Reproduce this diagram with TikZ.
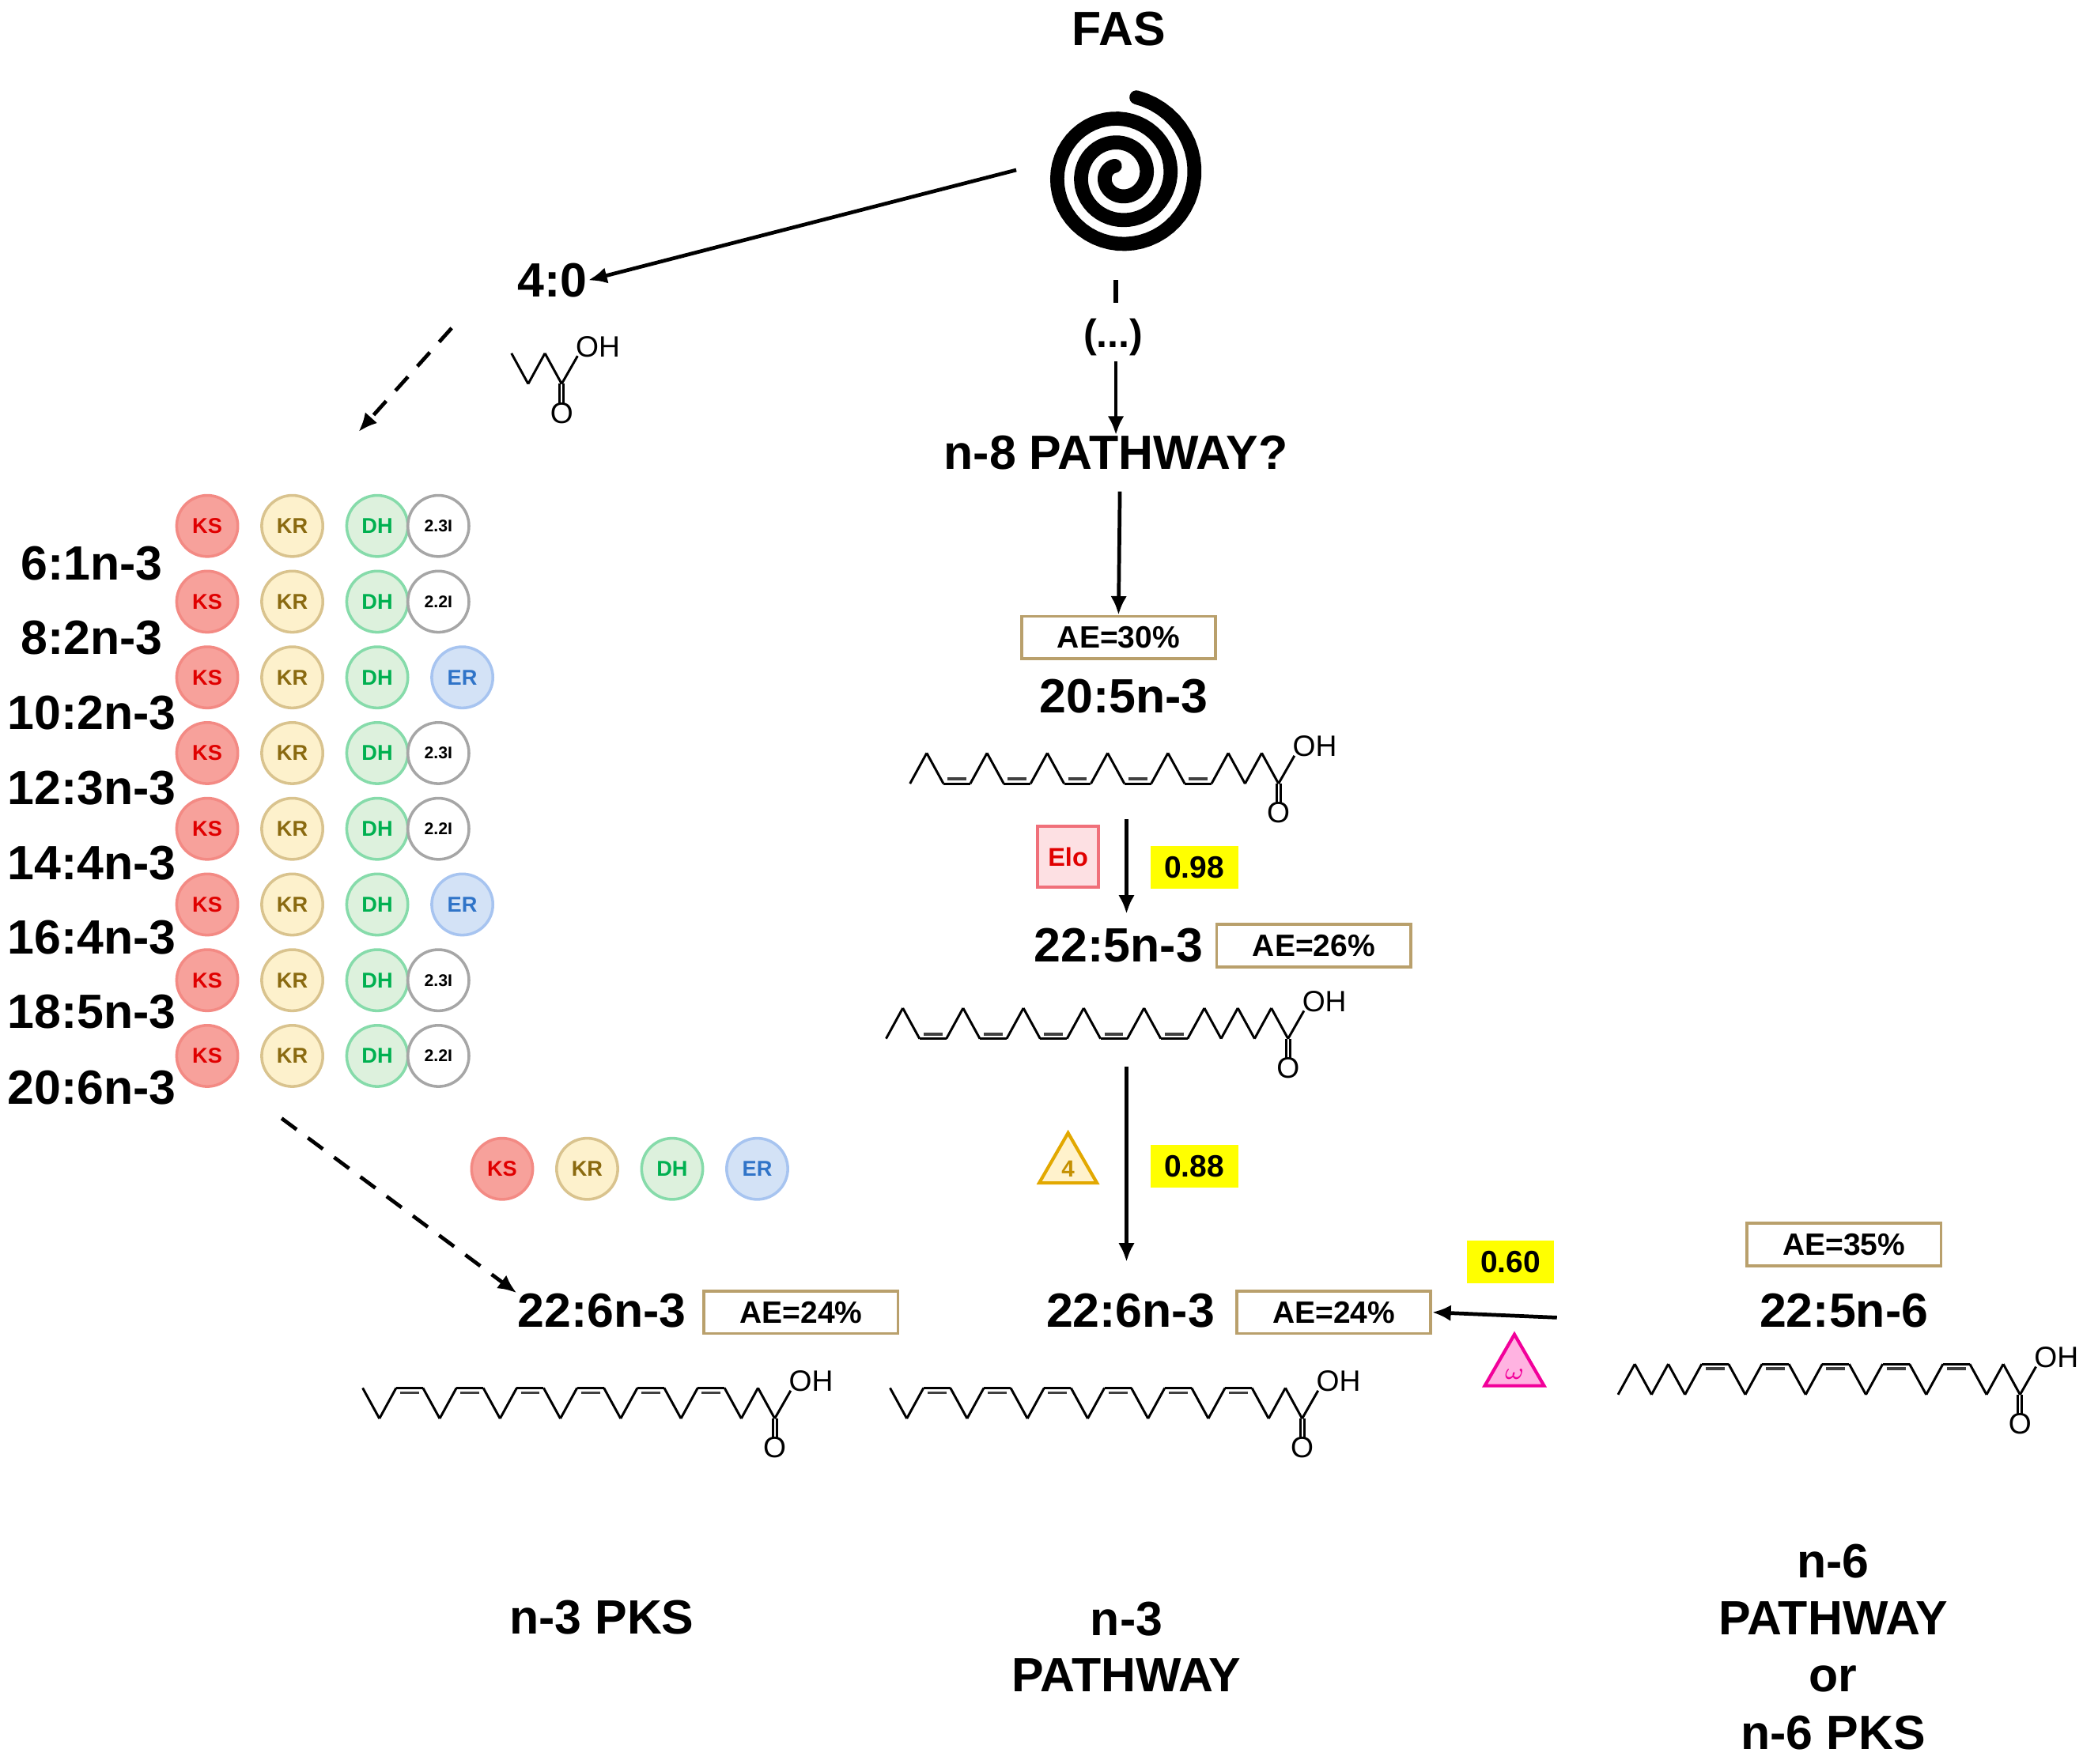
\documentclass[tikz,border=0pt]{standalone}
\usepackage{fontspec}
\setmainfont{Liberation Sans}
\usetikzlibrary{arrows.meta,calc,shapes.geometric}
\definecolor{ksF}{HTML}{F7A19B}\definecolor{ksD}{HTML}{F38A84}\definecolor{ksT}{HTML}{E00000}
\definecolor{krF}{HTML}{FDF1CC}\definecolor{krD}{HTML}{D9C38E}\definecolor{krT}{HTML}{8A6A10}
\definecolor{dhF}{HTML}{DDF1DD}\definecolor{dhD}{HTML}{86DBAA}\definecolor{dhT}{HTML}{00B050}
\definecolor{erF}{HTML}{D3E2F6}\definecolor{erD}{HTML}{A7C4F0}\definecolor{erT}{HTML}{3074C8}
\definecolor{aeD}{HTML}{B9A06C}\definecolor{yel}{HTML}{FFFF00}
\definecolor{triF}{HTML}{FFF2CC}\definecolor{triD}{HTML}{E2A800}\definecolor{triT}{HTML}{C49000}
\definecolor{omF}{HTML}{FFB3E1}\definecolor{omD}{HTML}{F2009A}
\definecolor{eloF}{HTML}{FDE0E3}\definecolor{eloD}{HTML}{F0707A}
\tikzset{
 big/.style={font=\fontsize{10.3}{12}\selectfont\bfseries, inner sep=0},
 ae/.style={draw=aeD, line width=0.6pt, minimum width=1.46cm, minimum height=0.32cm, inner sep=0, font=\fontsize{6.6}{7}\selectfont\bfseries},
 val/.style={fill=yel, minimum width=0.66cm, minimum height=0.32cm, inner sep=0, font=\fontsize{6.6}{7}\selectfont\bfseries},
 enz/.style={circle, minimum size=0.46cm, inner sep=0, line width=0.6pt, font=\fontsize{4.6}{5}\selectfont\bfseries},
 KS/.style={enz, fill=ksF, draw=ksD, text=ksT},
 KR/.style={enz, fill=krF, draw=krD, text=krT},
 DH/.style={enz, fill=dhF, draw=dhD, text=dhT},
 ER/.style={enz, fill=erF, draw=erD, text=erT},
 IS/.style={enz, fill=white, draw=gray!70, text=black, font=\fontsize{3.6}{4}\selectfont\bfseries},
 arr/.style={line width=0.8pt, -{Latex[length=4pt,width=3.5pt]}},
 darr/.style={arr, dash pattern=on 4pt off 3pt},
 bond/.style={line width=0.5pt, line join=miter},
 dbl/.style={line width=0.6pt, black!75},
 atom/.style={font=\fontsize{6.3}{7}\selectfont, inner sep=0},
}
\newcommand\fachain[5]{%
 \xdef\cx{#2}\xdef\cy{#3}%
 \foreach \m in {#4}{%
  \def\dx{0}\def\dy{0}\def\fl{0}%
  \if\m u\def\dx{12.6}\def\dy{-23}\fi
  \if\m d\def\dx{12.6}\def\dy{23}\fi
  \if\m f\def\dx{20.2}\def\dy{0}\def\fl{1}\fi
  \pgfmathsetmacro\nx{\cx+\dx}\pgfmathsetmacro\ny{\cy+\dy}%
  \draw[bond] (\cx,\cy)--(\nx,\ny);
  \ifnum\fl=1
   \pgfmathsetmacro\ax{\cx+3}\pgfmathsetmacro\bx{\nx-3}\pgfmathsetmacro\ay{\cy+#5*3.5}%
   \draw[dbl] (\ax,\ay)--(\bx,\ay);
  \fi
  \xdef\cx{\nx}\xdef\cy{\ny}%
 }%
 \coordinate (#1) at (\cx,\cy);
 \draw[bond] (#1)--++(12,-21);
 \node[atom, anchor=west] (#1OH) at ($(#1)+(10,-28)$) {OH};
 \draw[bond] ($(#1)+(-1.5,0)$)--++(0,15);
 \draw[bond] ($(#1)+(1.5,0)$)--++(0,15);
 \node[atom] (#1O) at ($(#1)+(0,22)$) {O};
}
\begin{document}
\begin{tikzpicture}[x=0.01cm,y=-0.01cm]
\useasboundingbox (0,0) rectangle (1568,1328);
% FAS
\node[big] (fas) at (842,22) {FAS};
\draw[line width=3pt, line cap=round] plot[domain=0:1040, samples=160, variable=\t]
 ({843+(60-\t/360*18)*cos(78-\t)}, {132-(60-\t/360*18)*sin(78-\t)});
\coordinate (spw) at (765,128);
\node[big] (c40) at (416,211) {4:0};
\draw[arr] (spw) -- (c40.east);
% 4:0 molecule
\fachain{m40}{385}{266}{d,u,d}{1}
% (...)
\coordinate (s1) at (840,211); \coordinate (s2) at (840,228);
\draw[line width=0.9pt] (s1)--(s2);
\node[font=\fontsize{8.5}{9}\selectfont\bfseries] (dots) at (838,254) {(...)};
\coordinate (s3) at (840,272);
\node[big] (n8) at (840,341) {n-8 PATHWAY?};
\draw[arr] (s3) -- (n8.north);
% 20:5
\node[ae] (ae30) at (842,480) {AE=30\%};
\draw[arr] (843,370) -- (ae30.north);
\node[big] (c205) at (846,524) {20:5n-3};
\fachain{m205}{685}{590}{u,d,f,u,d,f,u,d,f,u,d,f,u,d,f,u,d,u,d}{-1}
\node[draw=eloD, fill=eloF, line width=0.6pt, minimum size=0.46cm, inner sep=0, text=ksT, font=\fontsize{5.5}{6}\selectfont\bfseries] (elo) at (804,645) {Elo};
\node[val] (v98) at (899,653) {0.98};
\node[big] (c225) at (842,712) {22:5n-3};
\node[ae] (ae26) at (989,712) {AE=26\%};
\draw[arr] (848,617) -- (848,688);
\fachain{m225}{667}{782}{u,d,f,u,d,f,u,d,f,u,d,f,u,d,f,u,d,u,d,u,d}{-1}
\node[isosceles triangle, shape border rotate=90, isosceles triangle apex angle=60, draw=triD, fill=triF, line width=0.7pt, minimum size=0.3cm, inner sep=1.3pt, text=triT, font=\fontsize{5}{6}\selectfont\bfseries] (tri4) at (804,880) {4};
\node[val] (v88) at (899,878) {0.88};
% 22:6 middle
\node[big] (c226b) at (851,987) {22:6n-3};
\node[ae] (ae24b) at (1004,988) {AE=24\%};
\draw[arr] (848,803) -- (848,950);
\fachain{m226b}{670}{1045}{d,u,f,d,u,f,d,u,f,d,u,f,d,u,f,d,u,f,d,u,d}{1}
% 22:6 left
\node[big] (c226a) at (453,987) {22:6n-3};
\node[ae] (ae24a) at (603,988) {AE=24\%};
\fachain{m226a}{273}{1045}{d,u,f,d,u,f,d,u,f,d,u,f,d,u,f,d,u,f,d,u,d}{1}
% n-6
\node[ae] (ae35) at (1388,937) {AE=35\%};
\node[big] (c225n6) at (1388,987) {22:5n-6};
\fachain{m225n6}{1218}{1050}{u,d,u,d,u,f,d,u,f,d,u,f,d,u,f,d,u,f,d,u,d}{1}
\node[val] (v60) at (1137,950) {0.60};
\coordinate (w1) at (1172,992);
\draw[arr] (w1) -- (ae24b.east);
\node[isosceles triangle, shape border rotate=90, isosceles triangle apex angle=60, draw=omD, fill=omF, line width=0.7pt, minimum size=0.3cm, inner sep=1.3pt, text=omD, font=\fontsize{5}{6}\selectfont\bfseries] (triw) at (1140,1035) {$\omega$};
% bottom labels
\node[big] (lpks) at (453,1218) {n-3 PKS};
\node[big, align=center, font=\fontsize{10.3}{12}\selectfont\bfseries] (ln3) at (848,1240) {n-3\\PATHWAY};
\node[big, align=center, font=\fontsize{10.3}{12.2}\selectfont\bfseries] (ln6) at (1380,1240) {n-6\\PATHWAY\\or\\n-6 PKS};
% PKS ladder
\foreach \lab/\y in {6:1n-3/424, 8:2n-3/480, 10:2n-3/537, 12:3n-3/593, 14:4n-3/650, 16:4n-3/706, 18:5n-3/762, 20:6n-3/819}
 \node[big] (L\y) at (69,\y) {\lab};
\foreach \fourth/\y [count=\i] in {2.3I/396, 2.2I/453, ER/510, 2.3I/567, 2.2I/624, ER/681, 2.3I/738, 2.2I/795}{
 \node[KS] (ks\i) at (156,\y) {KS};
 \node[KR] (kr\i) at (220,\y) {KR};
 \node[DH] (dh\i) at (284,\y) {DH};
 \ifnum\pdfstrcmp{\fourth}{ER}=0
  \node[ER] (x\i) at (348,\y) {ER};
 \else
  \node[IS] (x\i) at (330,\y) {\fourth};
 \fi
}
\node[KS] (ksb) at (378,880) {KS};
\node[KR] (krb) at (442,880) {KR};
\node[DH] (dhb) at (506,880) {DH};
\node[ER] (erb) at (570,880) {ER};
\coordinate (d1) at (340,247); \coordinate (d2) at (270,325);
\draw[darr] (d1) -- (d2);
\coordinate (d3) at (212,842);
\draw[darr] (d3) -- (c226a.north west);
\end{tikzpicture}
\end{document}
